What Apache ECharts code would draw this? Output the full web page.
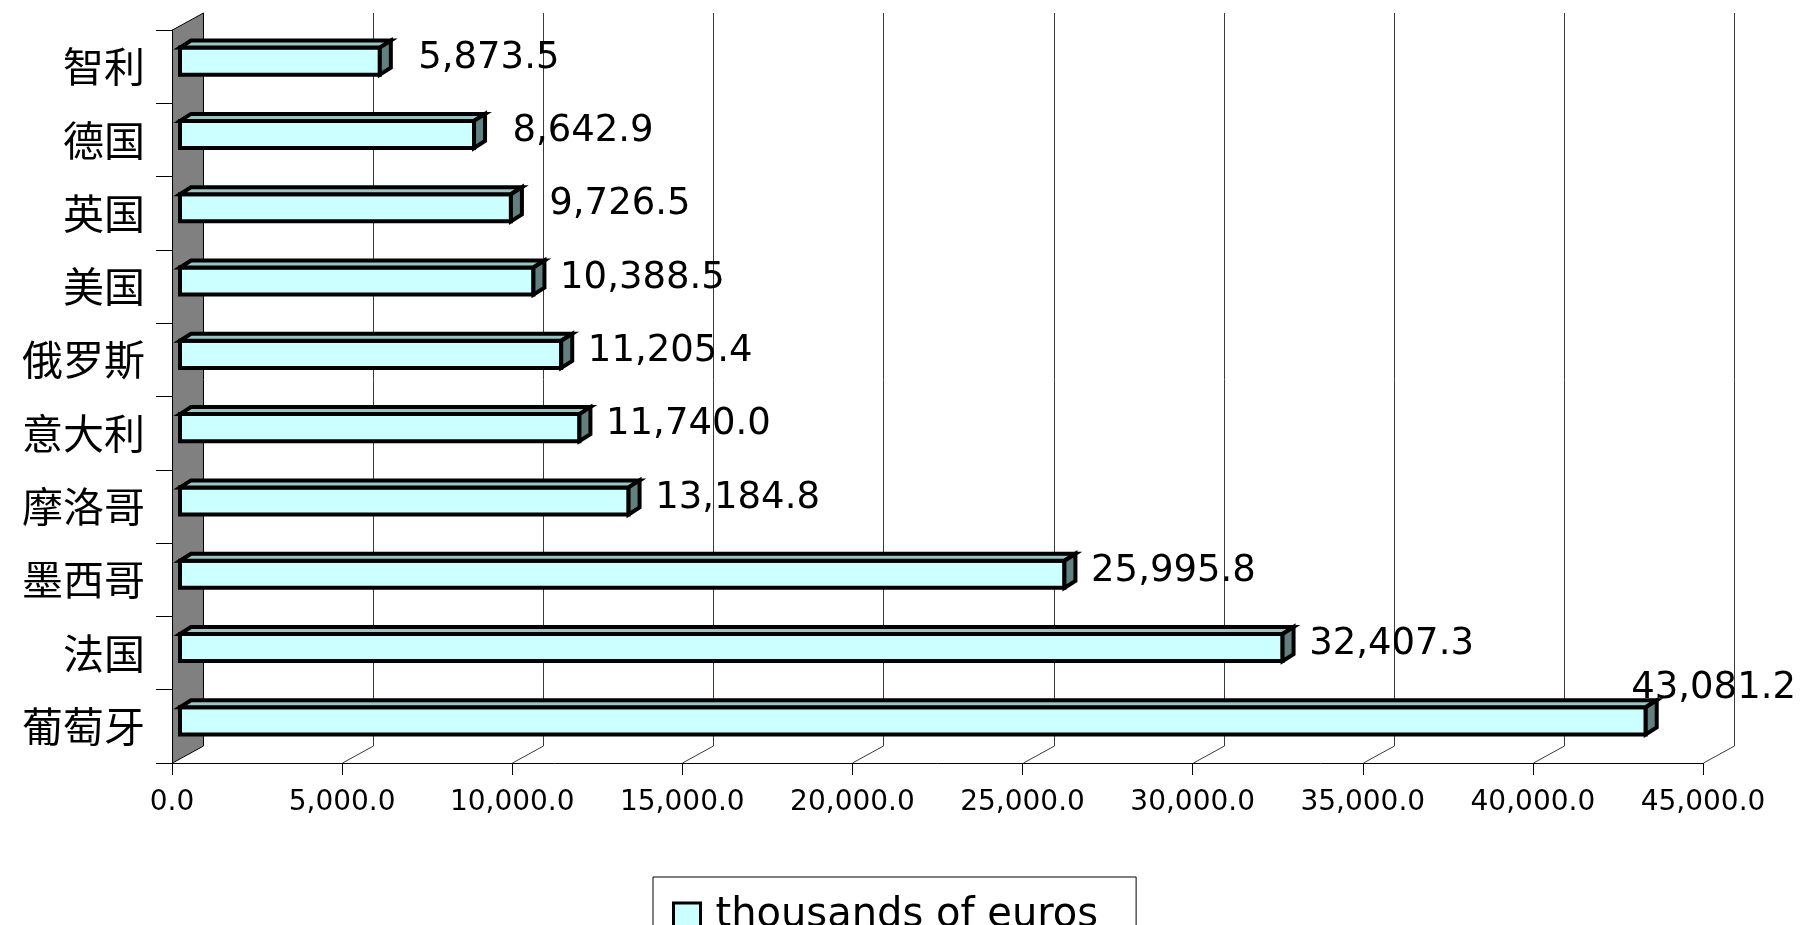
<!DOCTYPE html>
<html><head><meta charset="utf-8">
<script src="https://cdn.jsdelivr.net/npm/echarts@6/dist/echarts.min.js"></script>
<style>html,body{margin:0;padding:0;background:#fff}#c{width:1800px;height:925px}</style>
</head><body><div id="c"></div>
<script>
// ---- data ----
const categories = ['智利', '德国', '英国', '美国', '俄罗斯', '意大利', '摩洛哥', '墨西哥', '法国', '葡萄牙'];
const values = [5873.5, 8642.9, 9726.5, 10388.5, 11205.4, 11740.0, 13184.8, 25995.8, 32407.3, 43081.2];
const xTicks = [0, 5000, 10000, 15000, 20000, 25000, 30000, 35000, 40000, 45000];
const seriesName = 'thousands of euros';

// ---- helpers ----
function fmt(v) {
  const s = Number(v).toFixed(1);
  const parts = s.split('.');
  return parts[0].replace(/\B(?=(\d{3})+(?!\d))/g, ',') + '.' + parts[1];
}
const NUM_FONT = '"DejaVu Sans", Verdana, sans-serif';
const CJK_FONT = '"Noto Sans CJK SC", sans-serif';
const WALL_DX = 31, WALL_DY = -17;   // oblique depth of the back plane
const BAR_DX = 11, BAR_DY = -7;      // depth of each bar
const BAR_SHIFT_X = 8;               // bar front plane sits slightly behind the axis plane

const chart = echarts.init(document.getElementById('c'), null, {renderer: 'canvas'});

function renderBack(params, api) {
  const cs = params.coordSys;
  const bottom = cs.y + cs.height, top = cs.y;
  const x = Math.round(api.coord([api.value(0), 0])[0]) + 0.5;
  const children = [];
  if (params.dataIndex === 0) {
    children.push({
      type: 'polygon',
      shape: {points: [[x, bottom], [x + WALL_DX, bottom + WALL_DY], [x + WALL_DX, top + WALL_DY], [x, top]]},
      style: {fill: '#808080', stroke: '#000', lineWidth: 1}
    });
  } else {
    children.push({
      type: 'polyline',
      shape: {points: [[x, bottom], [x + WALL_DX, bottom + WALL_DY], [x + WALL_DX, top + WALL_DY]]},
      style: {fill: null, stroke: '#3a3a3a', lineWidth: 1}
    });
  }
  return {type: 'group', children: children};
}

function renderBar(params, api) {
  const i = api.value(1), v = api.value(0);
  const p0 = api.coord([0, i]);
  const pv = api.coord([v, i]);
  const band = api.size([0, 1])[1];
  const h = band * 0.37;
  const cy = p0[1] - band * 0.075;
  const x0 = p0[0] + BAR_SHIFT_X, x1 = pv[0] + BAR_SHIFT_X;
  const top = cy - h / 2, bot = cy + h / 2;
  const stroke = {stroke: '#000', lineWidth: 4, lineJoin: 'miter'};
  const children = [
    {type: 'rect', shape: {x: x0, y: top, width: x1 - x0, height: h},
     style: Object.assign({fill: '#CCFFFF'}, stroke)},
    {type: 'polygon', shape: {points: [[x0, top], [x0 + BAR_DX, top + BAR_DY], [x1 + BAR_DX, top + BAR_DY], [x1, top]]},
     style: Object.assign({fill: '#99C5C5'}, stroke)},
    {type: 'polygon', shape: {points: [[x1, top], [x1 + BAR_DX, top + BAR_DY], [x1 + BAR_DX, bot + BAR_DY], [x1, bot]]},
     style: Object.assign({fill: '#628080'}, stroke)}
  ];
  const label = fmt(v);
  const cx = pv[0] + 117;
  const W = api.getWidth();
  const font = '37px ' + NUM_FONT;
  if (cx + 95 > W) {
    children.push({type: 'text', x: W - 4, y: top + BAR_DY + 7,
      style: {text: label, fill: '#000', font: font, align: 'right', verticalAlign: 'bottom'}});
  } else {
    children.push({type: 'text', x: cx, y: cy - 3,
      style: {text: label, fill: '#000', font: font, align: 'center', verticalAlign: 'middle'}});
  }
  return {type: 'group', children: children};
}

const option = {
  backgroundColor: '#fff',
  animation: false,
  grid: {left: 172, right: 97, top: 30, bottom: 162, containLabel: false},
  xAxis: {
    type: 'value',
    min: xTicks[0], max: xTicks[xTicks.length - 1], interval: xTicks[1] - xTicks[0],
    axisLine: {show: true, lineStyle: {color: '#000', width: 1}},
    axisTick: {show: true, length: 12, lineStyle: {color: '#000', width: 1}},
    axisLabel: {color: '#000', fontFamily: NUM_FONT, fontSize: 28, margin: 26, formatter: fmt},
    splitLine: {show: false}
  },
  yAxis: {
    type: 'category', data: categories, inverse: true,
    axisLine: {show: true, lineStyle: {color: '#000', width: 1}},
    axisTick: {show: true, length: 16, lineStyle: {color: '#000', width: 1}},
    axisLabel: {color: '#000', fontFamily: CJK_FONT, fontSize: 41, margin: 27},
    splitLine: {show: false}
  },
  legend: {
    left: 653, top: 877,
    padding: [19, 38, 20, 19],
    borderColor: '#000', borderWidth: 1,
    itemWidth: 27, itemHeight: 26,
    textStyle: {color: '#000', fontFamily: NUM_FONT, fontSize: 40, padding: [0, 0, 0, 10]},
    data: [{name: seriesName, icon: 'rect', itemStyle: {color: '#CCFFFF', borderColor: '#000', borderWidth: 3}}]
  },
  series: [
    {
      type: 'custom', name: 'backplane', silent: true, clip: false, z: 1,
      renderItem: renderBack,
      encode: {x: 0},
      data: xTicks.map(t => [t])
    },
    {
      type: 'custom', name: seriesName, clip: false, z: 3,
      itemStyle: {color: '#CCFFFF', borderColor: '#000', borderWidth: 3},
      renderItem: renderBar,
      encode: {x: 0, y: 1},
      data: values.map((v, i) => [v, i])
    }
  ]
};
chart.setOption(option);
</script></body></html>
